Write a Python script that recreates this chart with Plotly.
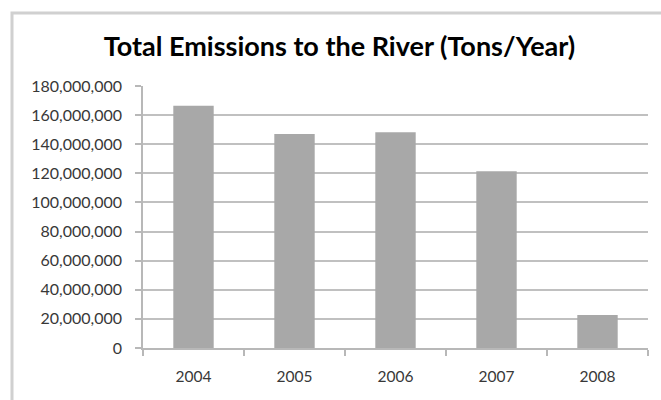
import plotly.graph_objects as go

years = ["2004", "2005", "2006", "2007", "2008"]
emissions = [166500000, 147000000, 148200000, 121500000, 22700000]
title_text = "Total Emissions to the River (Tons/Year)"

W, H = 661, 400

fig = go.Figure()
fig.add_trace(go.Bar(
    x=years, y=emissions, width=0.4,
    marker=dict(color="#a8a8a8", line=dict(width=0)),
    hoverinfo="x+y",
))

fig.update_layout(
    width=W, height=H,
    margin=dict(l=143, r=13, t=86, b=52),
    paper_bgcolor="white", plot_bgcolor="white",
    showlegend=False,
    title=dict(text="<b>" + title_text + "</b>", xref="container", yref="container",
               x=339.5 / W, y=1 - 47 / H, xanchor="center", yanchor="middle",
               font=dict(family="Lato", size=27, color="#000000")),
    font=dict(family="Lato", size=15, color="#404040"),
    shapes=[dict(type="rect", xref="paper", yref="paper",
                 x0=-131 / 505, x1=1.2, y0=-0.4, y1=1 + 73 / 262,
                 line=dict(color="#d0d0d0", width=3), layer="below")],
)
fig.update_xaxes(
    type="category", showline=True, linecolor="#b8b8b8", linewidth=1.5,
    ticks="outside", ticklen=6, tickcolor="#b8b8b8", tickwidth=1.5,
    tickson="boundaries", showgrid=False, ticklabelstandoff=14,
    tickfont=dict(family="Lato", size=15.5, color="#383838"),
)
fig.update_yaxes(
    range=[0, 180000000], dtick=20000000, tickformat=",",
    showline=True, linecolor="#b8b8b8", linewidth=1.5,
    ticks="outside", ticklen=6, tickcolor="#b8b8b8", tickwidth=1.5,
    showgrid=True, gridcolor="#c0c0c0", gridwidth=2, zeroline=False,
    ticklabelstandoff=10,
    tickfont=dict(family="Lato", size=16, color="#383838"),
)

fig.write_html("out.html")
